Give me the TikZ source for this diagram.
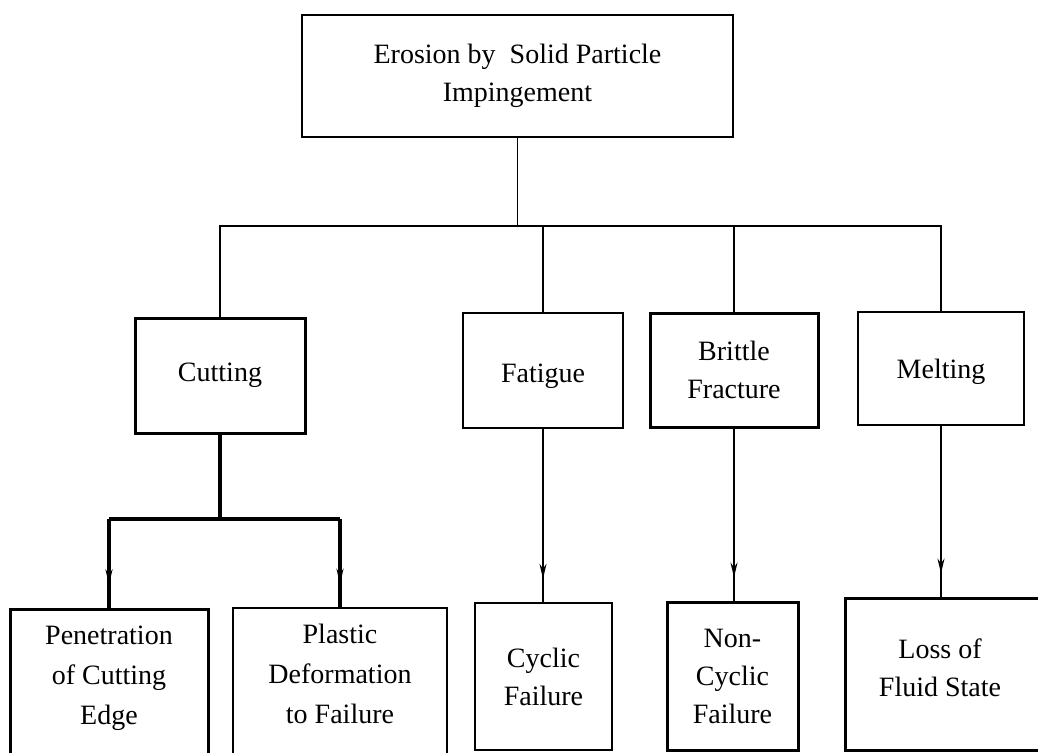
\documentclass[tikz,border=0pt]{standalone}
\usepackage{fontspec}
\setmainfont{Liberation Serif}
\usetikzlibrary{arrows.meta,decorations.markings}
\tikzset{
  box/.style={draw, line width=2.4pt, align=center, inner sep=0pt,
    font=\fontsize{28}{38}\selectfont},
  txt/.style={align=center, font=\fontsize{28}{40}\selectfont},
  conn/.style={line width=1.6pt},
  thick conn/.style={line width=3.6pt},
  midarrow/.style={postaction={decorate}, decoration={markings,
    mark=at position -23pt with {\arrow{Stealth[length=15pt,width=7pt]}}}},
}
\begin{document}
\begin{tikzpicture}[x=1pt,y=-1pt]
\useasboundingbox[fill=white] (0,0) rectangle (1038,752);
% top
\node[box, line width=2pt, minimum width=431pt, minimum height=122pt] (top) at (517.5,76) {Erosion by\ \ Solid Particle\\Impingement};
% second row
\node[box, line width=3pt, minimum width=170pt, minimum height=115pt] (cut) at (220,375.5) {Cutting};
\node[box, minimum width=160pt, minimum height=115pt] (fat) at (543,370.5) {};
\node[txt] (fatt) at (543,376) {Fatigue};
\node[box, line width=3pt, minimum width=168pt, minimum height=114pt] (bri) at (734,370) {Brittle\\Fracture};
\node[box, minimum width=166pt, minimum height=113pt] (mel) at (941,368.5) {};
\node[txt] (melt) at (941,372) {Melting};
% bottom row
\node[box, line width=3pt, minimum width=198pt, minimum height=152pt] (pen) at (109,685) {};
\node[txt] (pent) at (109,678) {Penetration\\of Cutting\\Edge};
\node[box, minimum width=214pt, minimum height=152pt] (pla) at (340,684) {};
\node[txt] (plat) at (340,674) {Plastic\\Deformation\\to Failure};
\node[box, minimum width=137pt, minimum height=147pt] (cyc) at (543.5,676.5) {Cyclic\\Failure};
\node[box, line width=3pt, minimum width=131pt, minimum height=148pt] (non) at (732.5,676) {Non-\\Cyclic\\Failure};
\node[box, line width=3pt, minimum width=206pt, minimum height=152pt] (los) at (948,674) {};
\node[txt, font=\fontsize{28}{38}\selectfont] (lost) at (940,668) {Loss of\\Fluid State};
% bus
\coordinate (busy) at (0,226);
\draw[conn] (top.south) -- (top.south |- busy);
\draw[conn] (cut.north) |- (mel.north |- busy) -- (mel.north);
\draw[conn] (fat.north) -- (fat.north |- busy);
\draw[conn] (bri.north) -- (bri.north |- busy);
% cutting subtree
\coordinate (cbus) at (0,519);
\draw[thick conn] (cut.south) -- (cut.south |- cbus);
\draw[thick conn, midarrow] (pen.north |- cbus) -- (pen.north);
\draw[thick conn] (pen.north |- cbus) -- (pla.north |- cbus);
\draw[thick conn, midarrow] (pla.north |- cbus) -- (pla.north);
% other drops
\draw[conn, midarrow] (fat.south) -- (cyc.north -| fat.south);
\draw[conn, midarrow] (bri.south) -- (non.north -| bri.south);
\draw[conn, midarrow] (mel.south) -- (mel.south |- los.north);
\end{tikzpicture}
\end{document}
